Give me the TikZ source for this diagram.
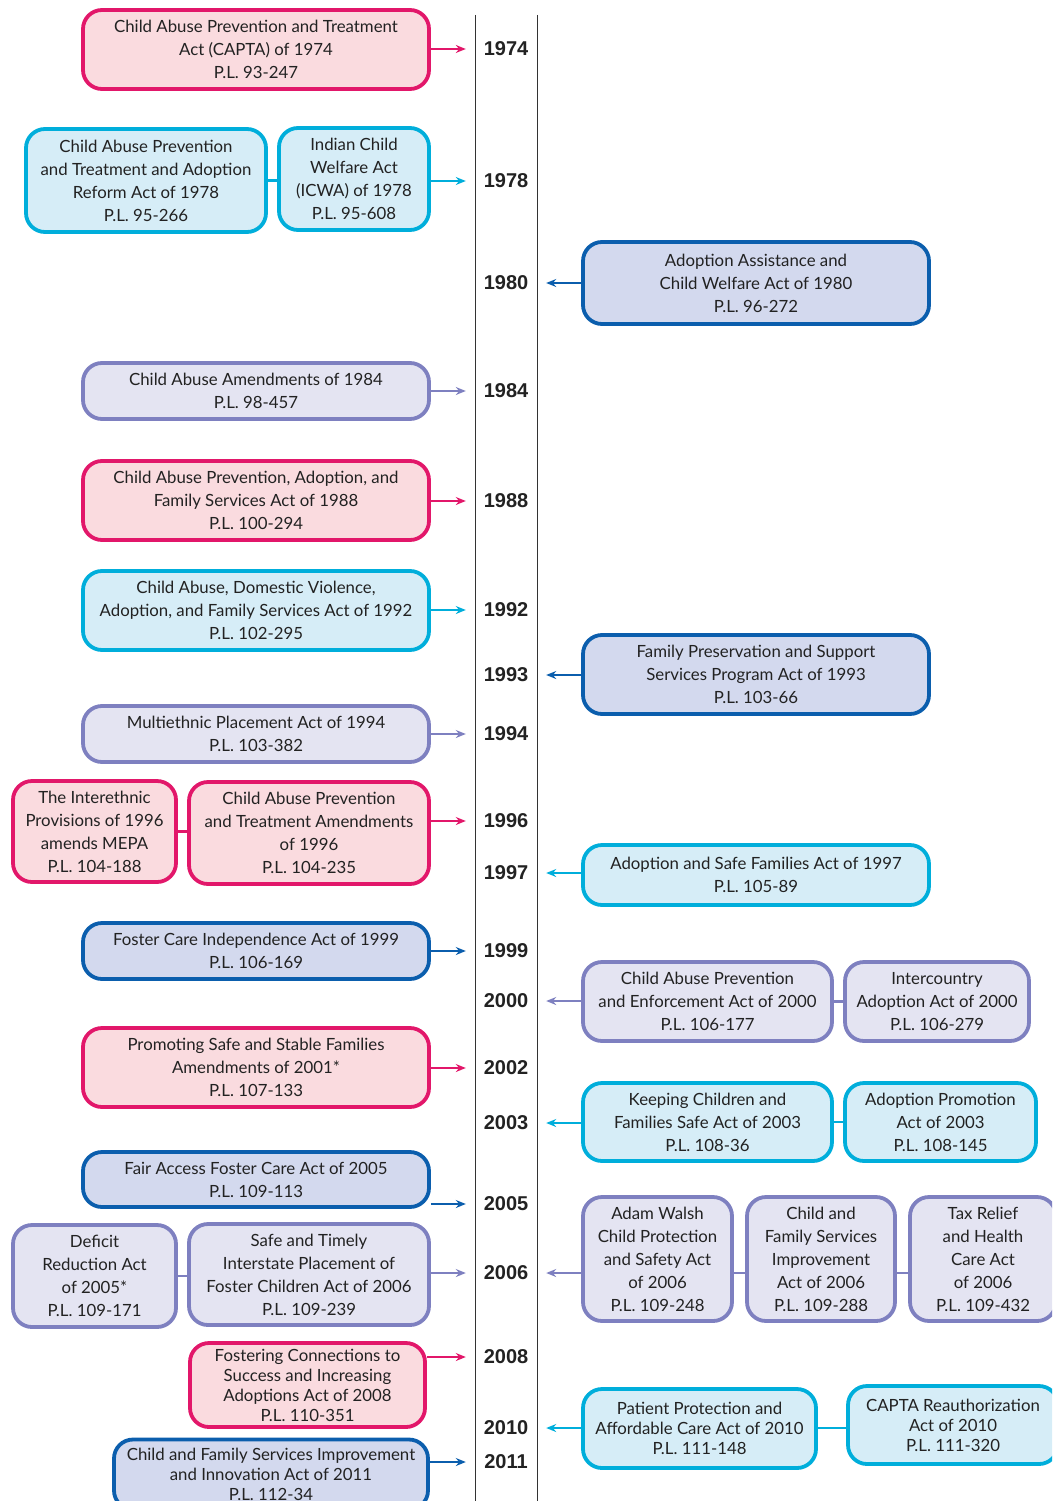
\documentclass[tikz,border=0pt]{standalone}
\usepackage{fontspec}
\setmainfont{Lato}
\newfontfamily\jahrfont{Liberation Sans}
\usetikzlibrary{arrows.meta}

\definecolor{rosarand}{HTML}{E2176A}
\definecolor{rosafill}{HTML}{FADBDF}
\definecolor{cyanrand}{HTML}{00AEDB}
\definecolor{cyanfill}{HTML}{D6EDF7}
\definecolor{lilarand}{HTML}{7E80C0}
\definecolor{lilafill}{HTML}{E4E4F2}
\definecolor{blaurand}{HTML}{0B5EAD}
\definecolor{blaufill}{HTML}{D3D9EE}
\definecolor{textgrau}{HTML}{222222}

\begin{document}
\begin{tikzpicture}[x=1pt,y=-1pt,
		gesetz/.style={rounded corners=19pt,line width=3.8pt,align=center,inner sep=0pt,text=textgrau,font=\fontsize{16.8}{23}\selectfont},
		rosa/.style={gesetz,draw=rosarand,fill=rosafill},
		cyan/.style={gesetz,draw=cyanrand,fill=cyanfill},
		lila/.style={gesetz,draw=lilarand,fill=lilafill},
		blau/.style={gesetz,draw=blaurand,fill=blaufill},
		eng/.style={font=\fontsize{16.8}{20}\selectfont},
		jahr/.style={minimum width=80pt,inner sep=0pt,text=textgrau,font=\jahrfont\bfseries\fontsize{20}{20}\selectfont},
		pfeil/.style={-{Stealth[length=10pt,width=8pt]},line width=1.4pt},
		verbinder/.style={line width=2.5pt},
		achse/.style={line width=1pt,black!80}]
		\clip (0,0) rectangle (1052,1501);
		
		%Zeitachse
		\draw[achse] (475,15) -- (475,1501);
		\draw[achse] (537,15) -- (537,1501);
		\foreach \j/\y in {1974/49,1978/181,1980/283,1984/391,1988/501,1992/610,1993/675,1994/734,1996/821,1997/873,1999/951,2000/1001,2002/1068,2003/1123,2005/1204,2006/1273,2008/1357,2010/1428,2011/1462}
		\node[jahr] (j\j) at (506,\y) {\j};
		
		%Gesetze links
		\node[rosa,minimum width=346pt,minimum height=79pt] (a1974) at (256,49.5) {Child Abuse Prevention and Treatment\\Act (CAPTA) of 1974\\P.L. 93-247};
		\node[cyan,minimum width=240pt,minimum height=103pt] (a1978) at (146,180.5) {Child Abuse Prevention\\and Treatment and Adoption\\Reform Act of 1978\\P.L. 95-266};
		\node[cyan,minimum width=150pt,minimum height=102pt] (b1978) at (354,179) {Indian Child\\Welfare Act\\(ICWA) of 1978\\P.L. 95-608};
		\node[lila,minimum width=346pt,minimum height=56pt] (a1984) at (256,391) {Child Abuse Amendments of 1984\\P.L. 98-457};
		\node[rosa,minimum width=346pt,minimum height=79pt] (a1988) at (256,500.5) {Child Abuse Prevention, Adoption, and\\Family Services Act of 1988\\P.L. 100-294};
		\node[cyan,minimum width=346pt,minimum height=79pt] (a1992) at (256,610.5) {Child Abuse, Domestic Violence,\\Adoption, and Family Services Act of 1992\\P.L. 102-295};
		\node[lila,minimum width=346pt,minimum height=56pt] (a1994) at (256,734) {Multiethnic Placement Act of 1994\\P.L. 103-382};
		\node[rosa,minimum width=163pt,minimum height=101pt] (a1996) at (94.5,831.5) {The Interethnic\\Provisions of 1996\\amends MEPA\\P.L. 104-188};
		\node[rosa,minimum width=240pt,minimum height=102pt] (b1996) at (309,833) {Child Abuse Prevention\\and Treatment Amendments\\of 1996\\P.L. 104-235};
		\node[blau,minimum width=346pt,minimum height=56pt] (a1999) at (256,951) {Foster Care Independence Act of 1999\\P.L. 106-169};
		\node[rosa,minimum width=346pt,minimum height=79pt] (a2002) at (256,1067.5) {Promoting Safe and Stable Families\\Amendments of 2001*\\P.L. 107-133};
		\node[blau,minimum width=346pt,minimum height=55pt] (a2005) at (256,1179.5) {Fair Access Foster Care Act of 2005\\P.L. 109-113};
		\node[lila,minimum width=163pt,minimum height=102pt] (a2006) at (94.5,1276) {Deficit\\Reduction Act\\of 2005*\\P.L. 109-171};
		\node[lila,minimum width=240pt,minimum height=101pt] (b2006) at (309,1274.5) {Safe and Timely\\Interstate Placement of\\Foster Children Act of 2006\\P.L. 109-239};
		\node[rosa,eng,minimum width=235pt,minimum height=84pt] (a2008) at (307.5,1385) {Fostering Connections to\\Success and Increasing\\Adoptions Act of 2008\\P.L. 110-351};
		\node[blau,eng,minimum width=314pt,minimum height=70pt] (a2011) at (271,1474.5) {Child and Family Services Improvement\\and Innovation Act of 2011\\P.L. 112-34};
		
		%Gesetze rechts
		\node[blau,minimum width=346pt,minimum height=82pt] (a1980) at (756,283) {Adoption Assistance and\\Child Welfare Act of 1980\\P.L. 96-272};
		\node[blau,minimum width=346pt,minimum height=79pt] (a1993) at (756,674.5) {Family Preservation and Support\\Services Program Act of 1993\\P.L. 103-66};
		\node[cyan,minimum width=346pt,minimum height=60pt] (a1997) at (756,875) {Adoption and Safe Families Act of 1997\\P.L. 105-89};
		\node[lila,minimum width=249pt,minimum height=79pt] (a2000) at (707.5,1001.5) {Child Abuse Prevention\\and Enforcement Act of 2000\\P.L. 106-177};
		\node[lila,minimum width=184pt,minimum height=79pt] (b2000) at (937,1001.5) {Intercountry\\Adoption Act of 2000\\P.L. 106-279};
		\node[cyan,minimum width=249pt,minimum height=78pt] (a2003) at (707.5,1122) {Keeping Children and\\Families Safe Act of 2003\\P.L. 108-36};
		\node[cyan,minimum width=191pt,minimum height=78pt] (b2003) at (940.5,1122) {Adoption Promotion\\Act of 2003\\P.L. 108-145};
		\node[lila,minimum width=149pt,minimum height=124pt] (c2006) at (657.5,1259) {Adam Walsh\\Child Protection\\and Safety Act\\of 2006\\P.L. 109-248};
		\node[lila,minimum width=148pt,minimum height=124pt] (d2006) at (821,1259) {Child and\\Family Services\\Improvement\\Act of 2006\\P.L. 109-288};
		\node[lila,minimum width=146pt,minimum height=124pt] (e2006) at (983,1259) {Tax Relief\\and Health\\Care Act\\of 2006\\P.L. 109-432};
		\node[cyan,eng,minimum width=233pt,minimum height=79pt] (a2010) at (699.5,1428.5) {Patient Protection and\\Affordable Care Act of 2010\\P.L. 111-148};
		\node[cyan,eng,minimum width=210pt,minimum height=78pt] (b2010) at (953,1425) {CAPTA Reauthorization\\Act of 2010\\P.L. 111-320};
		
		%Verbindungen zwischen Kaesten
		\draw[verbinder,cyanrand] (a1978.east) -- (a1978.east -| b1978.west);
		\draw[verbinder,rosarand] (a1996.east) -- (a1996.east -| b1996.west);
		\draw[verbinder,lilarand] (a2006.east) -- (a2006.east -| b2006.west);
		\draw[verbinder,lilarand] (a2000.east) -- (a2000.east -| b2000.west);
		\draw[verbinder,cyanrand] (a2003.east) -- (a2003.east -| b2003.west);
		\draw[verbinder,lilarand] (j2006.east -| c2006.east) -- (j2006.east -| d2006.west);
		\draw[verbinder,lilarand] (j2006.east -| d2006.east) -- (j2006.east -| e2006.west);
		\draw[verbinder,cyanrand] (j2010.east -| a2010.east) -- (j2010.east -| b2010.west);
		
		%Pfeile zur Zeitachse
		\draw[pfeil,rosarand] (j1974.west -| a1974.east) -- (j1974.west);
		\draw[pfeil,cyanrand] (j1978.west -| b1978.east) -- (j1978.west);
		\draw[pfeil,lilarand] (j1984.west -| a1984.east) -- (j1984.west);
		\draw[pfeil,rosarand] (j1988.west -| a1988.east) -- (j1988.west);
		\draw[pfeil,cyanrand] (j1992.west -| a1992.east) -- (j1992.west);
		\draw[pfeil,lilarand] (j1994.west -| a1994.east) -- (j1994.west);
		\draw[pfeil,rosarand] (j1996.west -| b1996.east) -- (j1996.west);
		\draw[pfeil,blaurand] (j1999.west -| a1999.east) -- (j1999.west);
		\draw[pfeil,rosarand] (j2002.west -| a2002.east) -- (j2002.west);
		\draw[pfeil,blaurand] (j2005.west -| a2005.east) -- (j2005.west);
		\draw[pfeil,lilarand] (j2006.west -| b2006.east) -- (j2006.west);
		\draw[pfeil,rosarand] (j2008.west -| a2008.east) -- (j2008.west);
		\draw[pfeil,blaurand] (j2011.west -| a2011.east) -- (j2011.west);
		
		\draw[pfeil,blaurand] (j1980.east -| a1980.west) -- (j1980.east);
		\draw[pfeil,blaurand] (j1993.east -| a1993.west) -- (j1993.east);
		\draw[pfeil,cyanrand] (j1997.east -| a1997.west) -- (j1997.east);
		\draw[pfeil,lilarand] (j2000.east -| a2000.west) -- (j2000.east);
		\draw[pfeil,cyanrand] (j2003.east -| a2003.west) -- (j2003.east);
		\draw[pfeil,lilarand] (j2006.east -| c2006.west) -- (j2006.east);
		\draw[pfeil,cyanrand] (j2010.east -| a2010.west) -- (j2010.east);
		
		\end{tikzpicture}
\end{document}
